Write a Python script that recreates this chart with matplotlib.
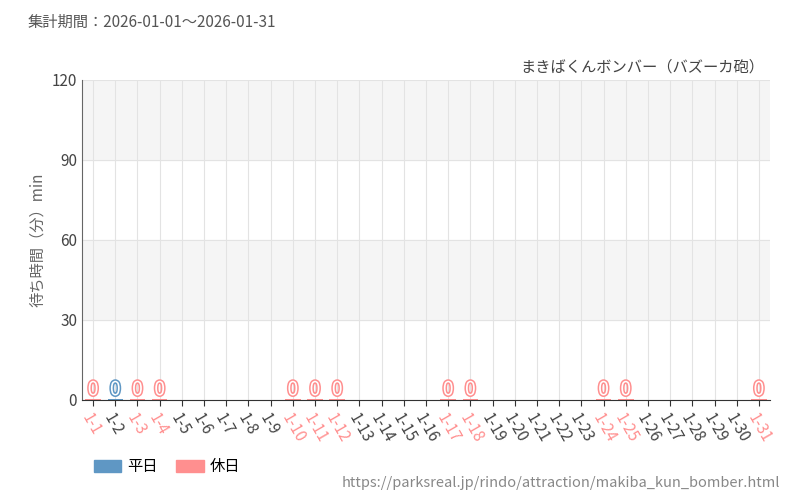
import matplotlib
matplotlib.use("Agg")
import matplotlib.pyplot as plt
import matplotlib.patheffects as pe
from matplotlib.patches import Patch

plt.rcParams['font.family'] = ['Noto Sans CJK JP', 'DejaVu Sans']

days = [f"1-{d}" for d in range(1, 32)]
holidays = [1, 3, 4, 10, 11, 12, 17, 18, 24, 25, 31]
weekday_data = {2: 0}
holiday_data = {d: 0 for d in holidays}
yticks = [0, 30, 60, 90, 120]

C_WD = "#5f97c4"
C_HD = "#ff8f8f"

fig = plt.figure(figsize=(8, 5), dpi=100)
ax = fig.add_axes([0.1025, 0.2, 0.86, 0.64])
ax.set_xlim(-0.5, 30.5)
ax.set_ylim(0, 120)
for lo in (30, 90):
    ax.axhspan(lo, lo + 30, color="#f5f5f5", zorder=0)
for y in yticks:
    ax.axhline(y, color="#e3e3e3", lw=0.8, zorder=0.5)
for i in range(31):
    ax.axvline(i, color="#e3e3e3", lw=0.8, zorder=0.5)

for d, v in list(weekday_data.items()) + list(holiday_data.items()):
    c = C_WD if d in weekday_data else C_HD
    ax.bar(d - 1, max(v, 0.4), width=0.7, color=c, zorder=2)
    ax.text(d - 1, v + 0.3, str(v), ha="center", va="bottom", fontsize=14,
            family="DejaVu Sans", stretch="condensed",
            color="white", zorder=3,
            path_effects=[pe.withStroke(linewidth=2.2, foreground=c)])

ax.set_xticks(range(31))
ax.set_xticklabels(days, rotation=-60, ha="left", rotation_mode="anchor", fontsize=11)
for i, lab in enumerate(ax.get_xticklabels()):
    lab.set_color(C_HD if (i + 1) in holidays else "#444444")
ax.set_yticks(yticks)
ax.set_yticklabels([str(y) for y in yticks], fontsize=11, color="#444444")
ax.tick_params(axis="x", length=4, color="#333333")
ax.tick_params(axis="y", length=0)
for s in ["top", "right"]:
    ax.spines[s].set_visible(False)
ax.spines["left"].set_color("#666666")
ax.spines["bottom"].set_color("#333333")
ax.set_ylabel("待ち時間（分）min", fontsize=11, color="#666666")

fig.text(0.035, 0.955, "集計期間：2026-01-01〜2026-01-31", fontsize=11, color="#555555", va="center")
fig.text(0.955, 0.865, "まきばくんボンバー（バズーカ砲）", fontsize=11, color="#444444", ha="right", va="center")
fig.text(0.975, 0.035, "https://parksreal.jp/rindo/attraction/makiba_kun_bomber.html", fontsize=10.5, color="#888888", ha="right", va="center")
fig.legend(handles=[Patch(color=C_WD, label="平日"), Patch(color=C_HD, label="休日")],
           loc="center left", bbox_to_anchor=(0.1, 0.067), ncol=2, frameon=False,
           fontsize=11, handlelength=1.8, handleheight=0.8, columnspacing=1.2,
           handletextpad=0.4)
fig.savefig("out.png")
